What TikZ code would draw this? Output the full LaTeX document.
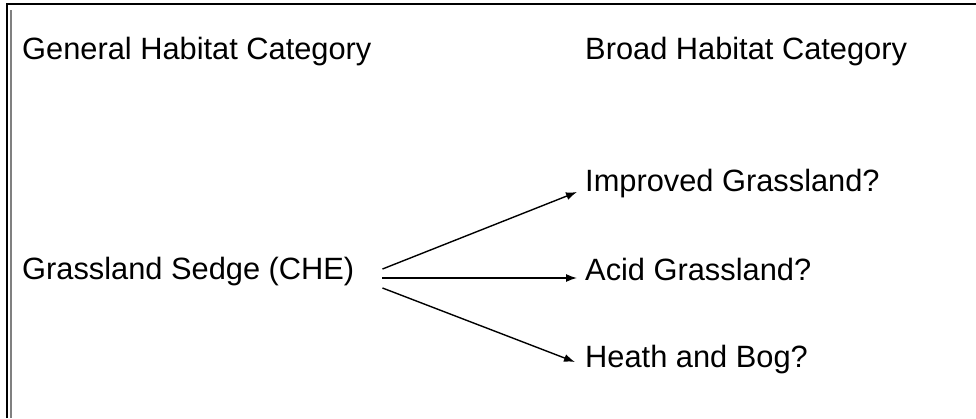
\documentclass[tikz,border=0pt]{standalone}
\usepackage{fontspec}
\setmainfont{Liberation Sans}
\usetikzlibrary{arrows.meta}

\begin{document}
\begin{tikzpicture}
  [x=1pt,y=1pt,
   every node/.style={inner sep=0pt,anchor=base west,font=\fontsize{30.8}{36}\selectfont},
   link/.style={line width=1.4pt,-{Latex[length=11pt,width=8pt]}}]
  \useasboundingbox (0,0) rectangle (976,418);
  % frame
  \draw[line width=2pt] (6.5,0) -- (6.5,413.5) -- (976,413.5);
  \draw[line width=2pt,gray] (10.5,0) -- (10.5,408);
  % headings
  \node (gen) at (22,358) {General Habitat Category};
  \node (brd) at (585,358) {Broad Habitat Category};
  % categories
  \node (src) at (22,139) {Grassland Sedge (CHE)};
  \node (imp) at (585,226) {Improved Grassland?};
  \node (acid) at (585,138) {Acid Grassland?};
  \node (heath) at (585,51) {Heath and Bog?};
  \draw[link] ([shift={(28pt,10pt)}]src.base east) -- ([shift={(-8pt,0pt)}]imp.base west);
  \draw[link] ([shift={(28pt,1pt)}]src.base east) -- ([shift={(-8pt,2pt)}]acid.base west);
  \draw[link] ([shift={(28pt,-9pt)}]src.base east) -- ([shift={(-10pt,5pt)}]heath.base west);
\end{tikzpicture}
\end{document}
